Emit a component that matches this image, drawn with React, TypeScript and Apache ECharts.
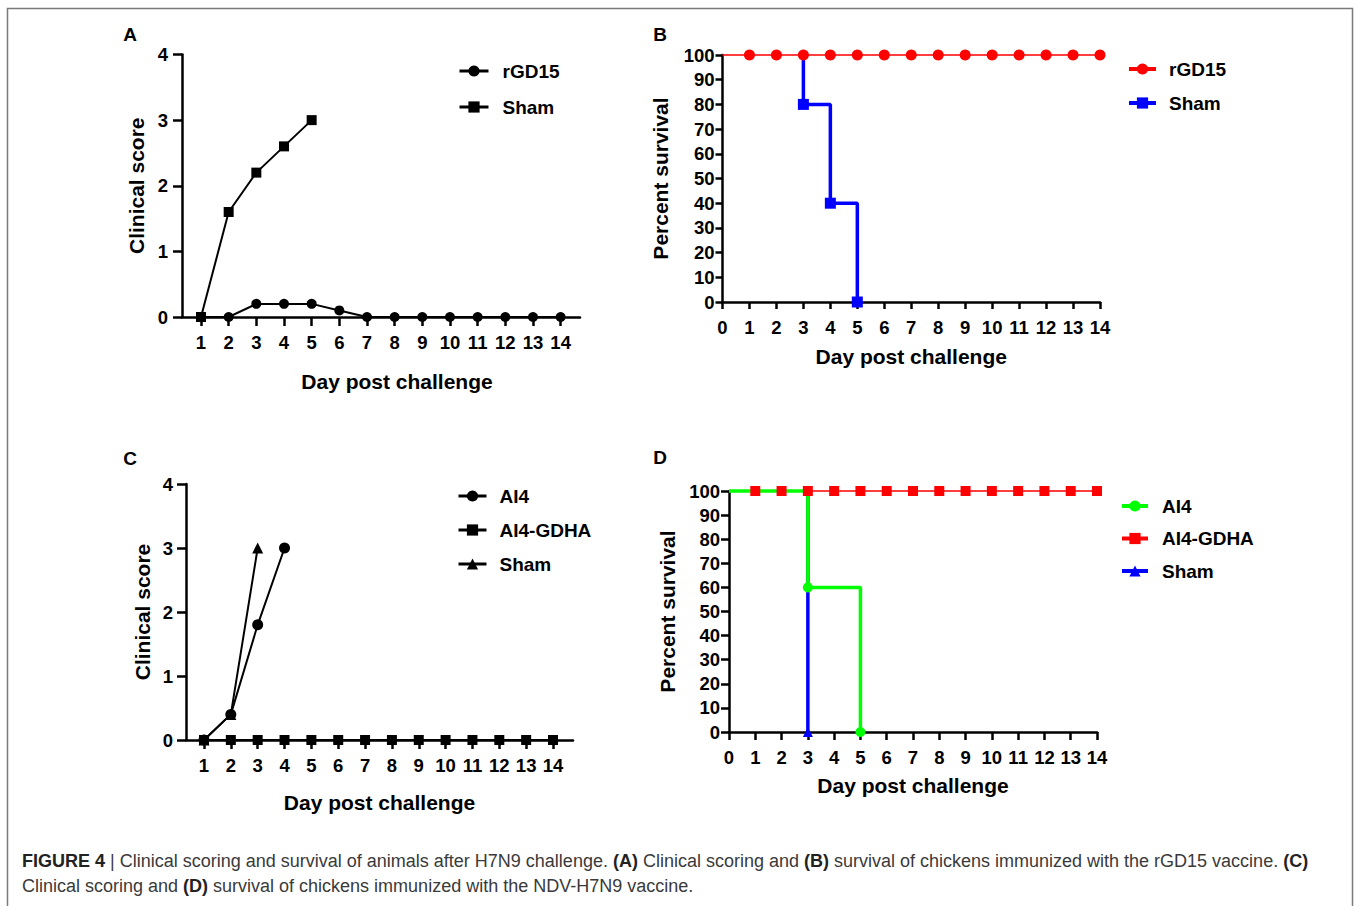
import React, { useEffect, useRef } from 'react';
import * as echarts from 'echarts';

const FONT = "'Liberation Sans', Arial, Helvetica, sans-serif";

// ---------- Panel A: clinical score, rGD15 ----------
const daysA = [1, 2, 3, 4, 5, 6, 7, 8, 9, 10, 11, 12, 13, 14];
const rgd15ScoreA = [0, 0, 0.2, 0.2, 0.2, 0.1, 0, 0, 0, 0, 0, 0, 0, 0];
const shamDaysA = [1, 2, 3, 4, 5];
const shamScoreA = [0, 1.6, 2.2, 2.6, 3.0];
const scoreTicks = [0, 1, 2, 3, 4];

// ---------- Panel B: survival, rGD15 ----------
const survivalDays = [0, 1, 2, 3, 4, 5, 6, 7, 8, 9, 10, 11, 12, 13, 14];
const survivalTicks = [0, 10, 20, 30, 40, 50, 60, 70, 80, 90, 100];
const rgd15SurvivalB = [100, 100, 100, 100, 100, 100, 100, 100, 100, 100, 100, 100, 100, 100, 100];
const shamStartB = 100;
const shamEventDaysB = [3, 4, 5];
const shamSurvivalB = [80, 40, 0];

// ---------- Panel C: clinical score, NDV-H7N9 ----------
const daysC = [1, 2, 3, 4, 5, 6, 7, 8, 9, 10, 11, 12, 13, 14];
const ai4DaysC = [1, 2, 3, 4];
const ai4ScoreC = [0, 0.4, 1.8, 3.0];
const gdhaScoreC = [0, 0, 0, 0, 0, 0, 0, 0, 0, 0, 0, 0, 0, 0];
const shamDaysC = [1, 2, 3];
const shamScoreC = [0, 0.4, 3.0];

// ---------- Panel D: survival, NDV-H7N9 ----------
const gdhaSurvivalD = [100, 100, 100, 100, 100, 100, 100, 100, 100, 100, 100, 100, 100, 100, 100];
const ai4StartD = 100;
const ai4EventDaysD = [3, 5];
const ai4SurvivalD = [60, 0];
const shamStartD = 100;
const shamEventDaysD = [3];
const shamSurvivalD = [0];

const pairs = (xs: number[], ys: number[]) => ys.map((y, i) => [xs[i], y]);

// survival line without a marker on day 0
const flatSurvival = (xs: number[], ys: number[]) =>
  ys.map((y, i) => (i === 0 ? { value: [xs[i], y], symbol: 'none' } : [xs[i], y]));

// Kaplan-Meier style step: optional start day, then drop at each event day (marker at the drop)
function stepPoints(startDay: number | null, startValue: number, days: number[], values: number[]) {
  const pts: any[] = [];
  if (startDay !== null) pts.push({ value: [startDay, startValue], symbol: 'none' });
  let prev = startValue;
  days.forEach((d, i) => {
    pts.push({ value: [d, prev], symbol: 'none' });
    pts.push({ value: [d, values[i]] });
    prev = values[i];
  });
  return pts;
}

const AXIS_W = 2.5;
const tickFont = { color: '#000', fontSize: 18.5, fontWeight: 'bold', fontFamily: FONT };
const nameFont = { color: '#000', fontSize: 21, fontWeight: 'bold', fontFamily: FONT };

function xAxisDef(gridIndex: number, min: number, max: number, ticks: number[], tickLen: number, nameGap: number, namePadding: number[] = [0, 0, 0, 0]) {
  return {
    type: 'value', gridIndex, min, max,
    axisLine: { show: true, onZero: false, lineStyle: { color: '#000', width: AXIS_W } },
    axisTick: { show: true, length: tickLen, customValues: ticks, lineStyle: { color: '#000', width: AXIS_W } },
    axisLabel: { customValues: ticks, margin: 16, ...tickFont },
    splitLine: { show: false },
    name: 'Day post challenge', nameLocation: 'middle', nameGap,
    nameTextStyle: { ...nameFont, padding: namePadding },
  };
}

function yAxisDef(gridIndex: number, max: number, ticks: number[], tickLen: number, labelMargin: number, name: string, nameGap: number) {
  return {
    type: 'value', gridIndex, min: 0, max,
    axisLine: { show: true, onZero: false, lineStyle: { color: '#000', width: AXIS_W } },
    axisTick: { show: true, length: tickLen, customValues: ticks, lineStyle: { color: '#000', width: AXIS_W } },
    axisLabel: { customValues: ticks, margin: labelMargin, ...tickFont },
    splitLine: { show: false },
    name, nameLocation: 'middle', nameGap,
    nameTextStyle: { ...nameFont },
  };
}

function lineSeries(name: string, axis: number, data: any[], color: string, width: number, symbol: string, symbolSize: number) {
  return {
    type: 'line', name, xAxisIndex: axis, yAxisIndex: axis, data,
    symbol, symbolSize, showSymbol: true,
    lineStyle: { color, width },
    itemStyle: { color, borderWidth: 0 },
    emphasis: { disabled: true },
    silent: true,
    clip: false,
  };
}

function legendDef(names: string[], left: number, top: number, itemWidth: number, gap: number, textPad: number, lineWidth: number) {
  return {
    show: true, orient: 'vertical', left, top, padding: 0,
    data: names, itemWidth, itemHeight: 14, itemGap: gap,
    selectedMode: false,
    formatter: (n: string) => n.split('::')[1],
    lineStyle: { width: lineWidth },
    textStyle: { color: '#000', fontSize: 19, fontWeight: 'bold', fontFamily: FONT, lineHeight: 19, padding: [0, 0, 0, textPad] },
  };
}

const caption =
  '{b|FIGURE 4} | Clinical scoring and survival of animals after H7N9 challenge. {b|(A)} Clinical scoring and {b|(B)} survival of chickens immunized with the rGD15 vaccine. {b|(C)}\n' +
  'Clinical scoring and {b|(D)} survival of chickens immunized with the NDV-H7N9 vaccine.';

function panelLetter(t: string, x: number, y: number) {
  return {
    type: 'text', x, y, silent: true,
    style: { text: t, fontSize: 19, fontWeight: 'bold', fontFamily: FONT, fill: '#000', align: 'center', verticalAlign: 'middle', textAlign: 'center', textVerticalAlign: 'middle' },
  };
}

export default function App() {
  const ref = useRef<HTMLDivElement>(null);
  useEffect(() => {
    if (!ref.current) return;
    const chart = echarts.init(ref.current, null, { renderer: 'svg' });
    const option: any = {
      animation: false,
      backgroundColor: '#fff',
      grid: [
        { left: 182, top: 54.5, width: 398, height: 262.5 },
        { left: 722.5, top: 55, width: 377.5, height: 247 },
        { left: 186, top: 484, width: 387, height: 256 },
        { left: 729, top: 491, width: 368, height: 241 },
      ],
      xAxis: [
        xAxisDef(0, 0.313, 14.7, daysA, 9, 54, [0, 0, 0, 32]),
        xAxisDef(1, 0, 14, survivalDays, 7, 44),
        xAxisDef(2, 0.33, 14.745, daysC, 9, 52),
        xAxisDef(3, 0, 14, survivalDays, 8, 43),
      ],
      yAxis: [
        yAxisDef(0, 4, scoreTicks, 9, 14, 'Clinical score', 35),
        yAxisDef(1, 100, survivalTicks, 7, 8, 'Percent survival', 52),
        yAxisDef(2, 4, scoreTicks, 9, 13, 'Clinical score', 33),
        yAxisDef(3, 100, survivalTicks, 8, 9, 'Percent survival', 51),
      ],
      legend: [
        legendDef(['A::rGD15', 'A::Sham'], 458, 61.5, 29, 17, 9, 3),
        legendDef(['B::rGD15', 'B::Sham'], 1127, 59.5, 27, 15, 8, 4),
        legendDef(['C::AI4', 'C::AI4-GDHA', 'C::Sham'], 457, 486.5, 28, 15, 8, 3),
        legendDef(['D::AI4', 'D::AI4-GDHA', 'D::Sham'], 1120, 496.5, 26, 13.5, 9, 4),
      ],
      series: [
        // A
        lineSeries('A::rGD15', 0, pairs(daysA, rgd15ScoreA), '#000', 2, 'circle', 10),
        lineSeries('A::Sham', 0, pairs(shamDaysA, shamScoreA), '#000', 2, 'rect', 10),
        // B
        lineSeries('B::Sham', 1, stepPoints(null, shamStartB, shamEventDaysB, shamSurvivalB), '#0000ff', 3.5, 'rect', 11),
        lineSeries('B::rGD15', 1, flatSurvival(survivalDays, rgd15SurvivalB), '#ff0000', 1.5, 'circle', 11),
        // C
        lineSeries('C::Sham', 2, pairs(shamDaysC, shamScoreC), '#000', 2, 'triangle', 11),
        lineSeries('C::AI4', 2, pairs(ai4DaysC, ai4ScoreC), '#000', 2, 'circle', 11),
        lineSeries('C::AI4-GDHA', 2, pairs(daysC, gdhaScoreC), '#000', 2, 'rect', 10),
        // D
        lineSeries('D::AI4-GDHA', 3, flatSurvival(survivalDays, gdhaSurvivalD), '#ff0000', 1.5, 'rect', 10),
        lineSeries('D::Sham', 3, stepPoints(null, shamStartD, shamEventDaysD, shamSurvivalD), '#0000ff', 3.5, 'triangle', 10),
        lineSeries('D::AI4', 3, stepPoints(0, ai4StartD, ai4EventDaysD, ai4SurvivalD), '#00ff00', 3.5, 'circle', 10),
      ],
      graphic: [
        {
          type: 'rect', silent: true,
          shape: { x: 7.5, y: 8.5, width: 1345, height: 1000 },
          style: { fill: 'none', stroke: '#7a7a7a', lineWidth: 1.5 },
        },
        panelLetter('A', 130, 34),
        panelLetter('B', 660, 34),
        panelLetter('C', 130, 458),
        panelLetter('D', 660, 457),
        {
          type: 'text', x: 22, y: 848, silent: true,
          style: {
            text: caption,
            fontSize: 18, fontFamily: FONT, fill: '#3a3a3a', lineHeight: 25,
            verticalAlign: 'top', textVerticalAlign: 'top',
            rich: {
              b: { fontSize: 18, fontFamily: FONT, fontWeight: 'bold', fill: '#222', lineHeight: 25 },
            },
          },
        },
      ],
    };
    chart.setOption(option);
    return () => chart.dispose();
  }, []);
  return (
    <div
      ref={ref}
      style={{ position: 'absolute', left: 0, top: 0, width: 1358, height: 906, background: '#fff' }}
    />
  );
}
